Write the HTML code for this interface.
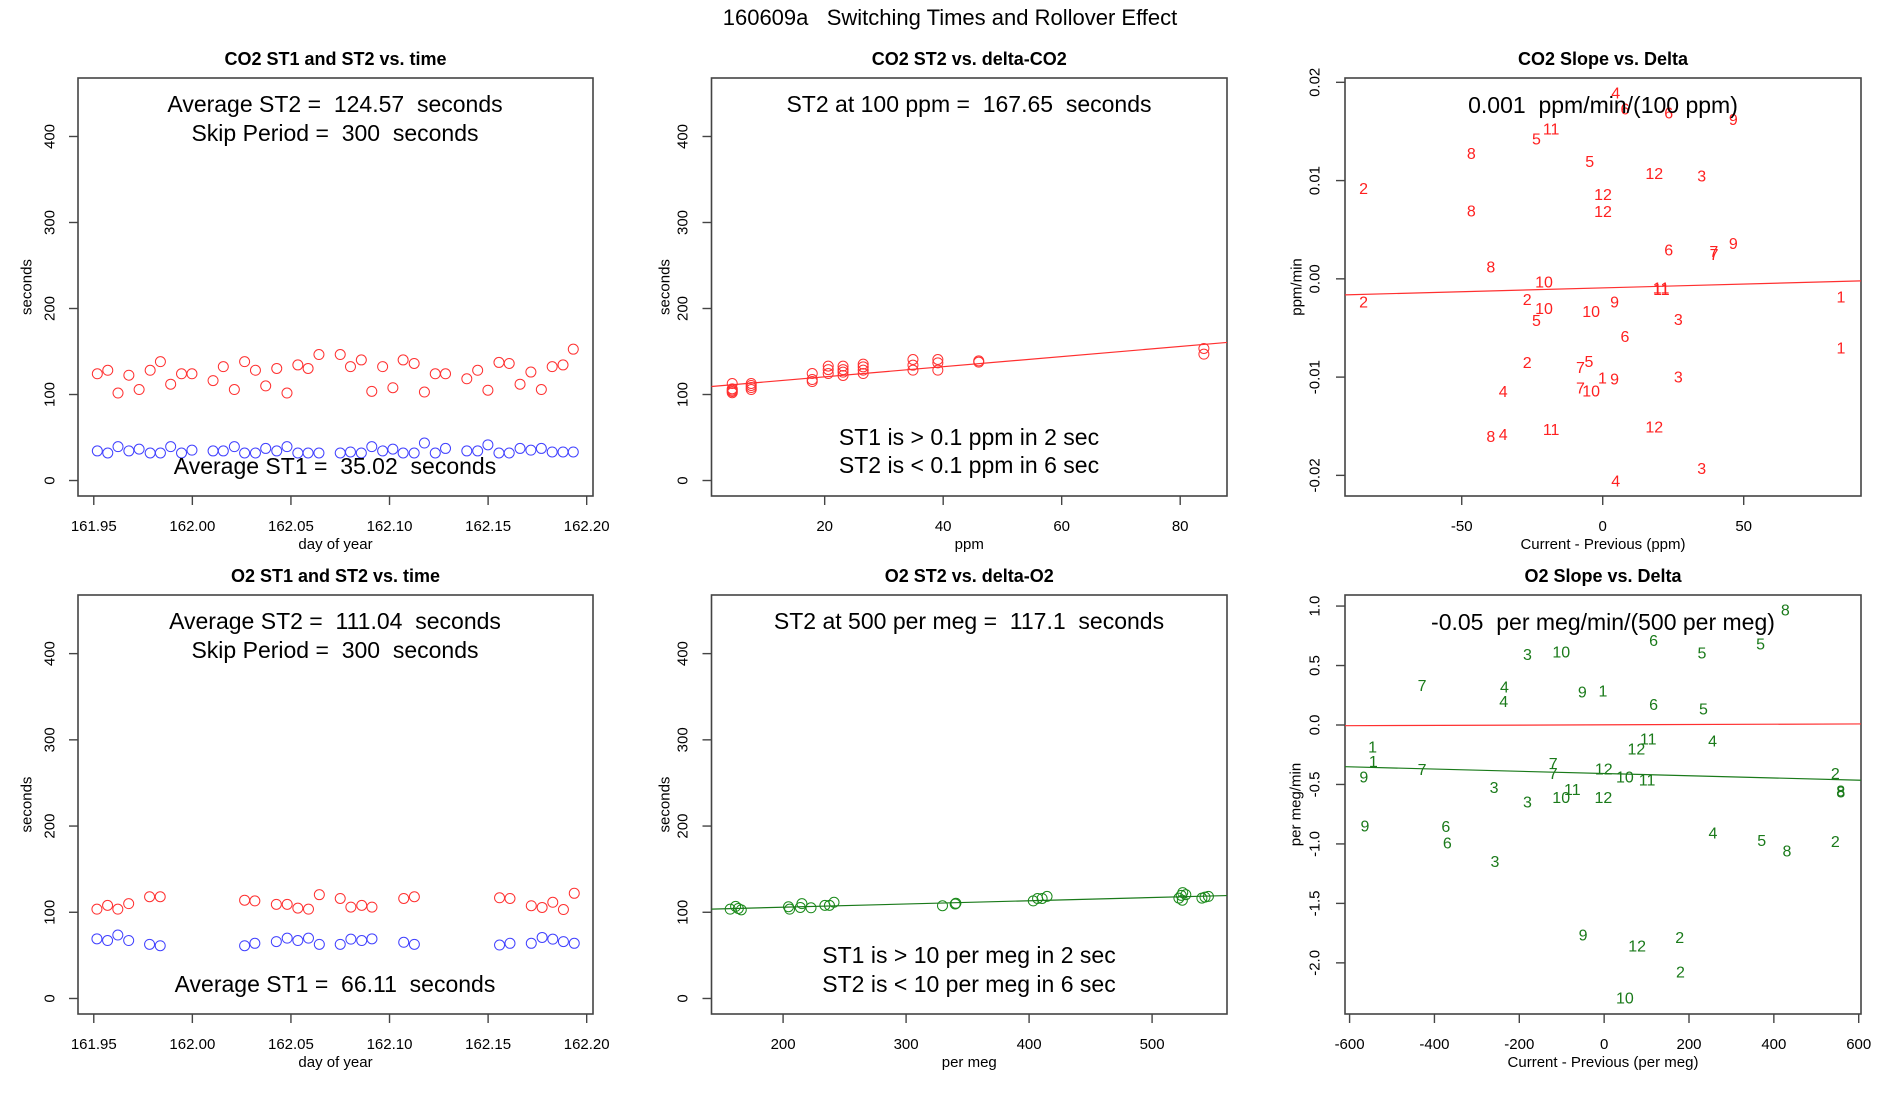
<!DOCTYPE html>
<html><head><meta charset="utf-8"><style>
html,body{margin:0;padding:0;background:#fff;}
svg{display:block;font-family:"Liberation Sans",sans-serif;}
svg text{white-space:pre;}
</style></head><body>
<svg id="fig" width="1900" height="1100" viewBox="0 0 1900 1100" xml:space="preserve">
<text x="950" y="25" font-size="22" text-anchor="middle">160609a   Switching Times and Rollover Effect</text>
</svg>
<script>
// ---------- Panel 1: CO2 ST1/ST2 vs time ----------
const co2Times = [161.9518,161.9571,161.9623,161.9678,161.9730,161.9786,161.9838,161.9890,161.9945,161.9998,162.0105,162.0157,162.0213,162.0265,162.0320,162.0372,162.0428,162.0480,162.0535,162.0587,162.0642,162.0750,162.0802,162.0857,162.0910,162.0965,162.1017,162.1069,162.1125,162.1177,162.1232,162.1284,162.1392,162.1447,162.1499,162.1555,162.1607,162.1662,162.1717,162.1770,162.1825,162.1880,162.1932];
const co2ST2 = [124.1,128.2,101.7,122.4,105.8,128.2,138.2,112.0,124.1,124.1,116.2,132.4,105.8,138.2,128.2,110.0,130.3,101.7,134.4,130.3,146.5,146.5,132.4,140.2,103.7,132.4,107.9,140.2,136.1,102.9,124.1,124.1,118.3,128.2,105.0,137.3,136.1,112.0,126.1,105.8,132.4,134.4,152.7];
const co2ST1 = [34.4,32.0,39.4,34.4,36.5,32.0,32.0,39.4,32.0,35.3,34.4,34.4,39.4,32.0,32.0,37.3,34.4,39.4,32.0,32.0,32.0,32.0,33.2,32.0,39.4,34.4,36.5,32.0,32.0,43.6,32.0,37.3,34.4,34.4,41.5,32.0,32.0,37.3,35.3,37.3,33.2,33.2,33.2];
const timeTicks = [161.95,162.00,162.05,162.10,162.15,162.20];
const timeTickLabels = ["161.95","162.00","162.05","162.10","162.15","162.20"];
const secTicks = [0,100,200,300,400];
const secTickLabels = ["0","100","200","300","400"];

// ---------- Panel 4: O2 ST1/ST2 vs time ----------
const o2Times = [161.9516,161.9570,161.9622,161.9677,161.9783,161.9837,162.0265,162.0317,162.0426,162.0481,162.0535,162.0589,162.0644,162.0750,162.0804,162.0859,162.0911,162.1072,162.1126,162.1558,162.1611,162.1719,162.1774,162.1828,162.1882,162.1937];
const o2ST2 = [103.6,108,103.6,110,118,118,114,113.2,109.2,109.2,104.8,103.6,120.4,116,106,108,106,116,118,116.8,116,107.6,105.6,111.6,103.2,122];
const o2ST1 = [69.2,67.2,73.6,67.2,62.8,61.2,61.2,64,66,70,67.2,70,62.8,62.8,68.8,67.2,69.2,65.2,62.8,62,64,64,70.8,68.8,66,64];

// ---------- Panel 2: CO2 ST2 vs delta ----------
const co2Delta = [4.4,4.4,4.4,4.4,4.4,7.6,7.6,7.6,7.6,17.9,17.9,17.9,20.6,20.6,20.6,23.1,23.1,23.1,23.1,26.5,26.5,26.5,26.5,34.9,34.9,34.9,39.1,39.1,39.1,46,46,84,84];
const co2DeltaST2 = [112.8,106.6,105,103.5,102,112.8,110.5,108.1,105.8,124.4,117.4,115.1,133,129,124.4,133,129,126,122.1,135.3,132.2,128.3,124.4,140.7,134.1,128.3,140.7,136.8,128.3,139.1,137.6,153.5,146.9];
const co2Fit = [108.8,0.5885]; // intercept, slope
const ppmTicks = [20,40,60,80];
const ppmTickLabels = ["20","40","60","80"];

// ---------- Panel 5: O2 ST2 vs delta ----------
const o2Delta = [157,161.4,163.6,166,204.4,205.3,214,215.3,222.7,234,237.7,241.4,329.6,339.9,340.5,403.4,406.9,410.6,414.6,521.8,523.7,524.6,524.9,527.4,540.5,543,545.8];
const o2DeltaST2 = [103.6,106.8,104.4,102.8,106.4,103.6,105.6,110,105.2,108,108,111.6,107.6,109.6,110.4,113.2,116,116,118.4,116.4,119.6,114,122.8,120.4,116.4,117.6,118.4];
const o2Fit = [98.35,0.0375];
const megTicks = [200,300,400,500];
const megTickLabels = ["200","300","400","500"];

// ---------- Panel 3: CO2 slope vs delta ----------
const co2SlopeLabels = ["4","6","6","9","11","5","8","5","12","3","2","12","8","12","9","6","7","7","8","10","11","11","1","2","2","9","10","10","5","3","6","1","2","5","7","1","9","3","4","7","10","11","12","8","4","3","4"];
const co2SlopeX = [4.6,7.9,23.4,46.3,-18.3,-23.5,-46.6,-4.6,18.3,35.1,-84.8,0.1,-46.6,0.1,46.3,23.4,39.4,39.5,-39.7,-20.8,20.7,20.8,84.5,-84.8,-26.8,4.2,-20.8,-4.1,-23.5,26.8,7.9,84.5,-26.8,-4.9,-7.9,-0.1,4.2,26.8,-35.3,-7.9,-4.1,-18.3,18.3,-39.7,-35.3,35.1,4.6];
const co2SlopeY = [0.01881,0.01718,0.01677,0.01609,0.01514,0.01412,0.01265,0.01184,0.01061,0.01037,0.00908,0.00847,0.0068,0.00673,0.0035,0.00282,0.0027,0.0024,0.00109,-0.00041,-0.00105,-0.00118,-0.00194,-0.00245,-0.00221,-0.00245,-0.0031,-0.00344,-0.00435,-0.00425,-0.00599,-0.00714,-0.0086,-0.0085,-0.00912,-0.0102,-0.01031,-0.0101,-0.01156,-0.01122,-0.0115,-0.01541,-0.0152,-0.01616,-0.01592,-0.01942,-0.02065];
const co2SlopeFit = [-0.00092,0.0000078];
const slopeXTicks = [-50,0,50];
const slopeXTickLabels = ["-50","0","50"];
const slopeYTicks = [-0.02,-0.01,0,0.01,0.02];
const slopeYTickLabels = ["-0.02","-0.01","0.00","0.01","0.02"];

// ---------- Panel 6: O2 slope vs delta ----------
const o2SlopeLabels = ["8","6","10","3","5","5","7","4","9","1","4","6","5","11","4","12","1","1","7","7","7","12","9","10","11","2","8","8","3","11","10","12","3","9","6","6","4","5","2","8","3","9","12","2","2","10"];
const o2SlopeX = [427,116.6,-101,-180.7,230.4,368.7,-429.2,-234.9,-51.5,-2.7,-236.7,116.6,234,103.9,255.7,75.9,-545.8,-544,-429.2,-120.2,-120.2,-0.9,-566.5,48.8,101.2,544.9,557.5,558,-259.3,-75,-101.2,-1.8,-180.7,-563.8,-373.2,-369.6,256.6,371.4,544.9,431,-257.5,-49.7,77.7,178,179.8,48.8];
const o2SlopeY = [0.958,0.703,0.607,0.584,0.598,0.671,0.325,0.311,0.27,0.276,0.189,0.166,0.128,-0.125,-0.145,-0.209,-0.195,-0.317,-0.383,-0.334,-0.415,-0.378,-0.444,-0.444,-0.471,-0.415,-0.563,-0.57,-0.534,-0.549,-0.616,-0.619,-0.656,-0.857,-0.86,-0.999,-0.915,-0.979,-0.987,-1.069,-1.156,-1.775,-1.865,-1.795,-2.085,-2.303];
const o2SlopeFit = [-0.408,-0.0000937];
const o2SlopeRedFit = [0.0015,0.0000123];
const megDXTicks = [-600,-400,-200,0,200,400,600];
const megDXTickLabels = ["-600","-400","-200","0","200","400","600"];
const o2SlopeYTicks = [-2.0,-1.5,-1.0,-0.5,0,0.5,1.0];
const o2SlopeYTickLabels = ["-2.0","-1.5","-1.0","-0.5","0.0","0.5","1.0"];

const NS = "http://www.w3.org/2000/svg";
const svg = document.getElementById('fig');
function mk(tag, attrs, parent, txt){
  const e = document.createElementNS(NS, tag);
  for (const k in attrs) e.setAttribute(k, attrs[k]);
  if (txt !== undefined) e.textContent = txt;
  (parent || svg).appendChild(e);
  return e;
}
function makePanel(name, box, xd, yd){
  const g = mk('g', {});
  
  
  const sx = v => box.x0 + (v - xd[0]) / (xd[1] - xd[0]) * (box.x1 - box.x0);
  const sy = v => box.y1 - (v - yd[0]) / (yd[1] - yd[0]) * (box.y1 - box.y0);
  return {g, sx, sy, box};
}
function frame(p, title, xlab, ylab, xt, xtl, yt, ytl, ylabX, ytickX){
  const b = p.box;
  const r = mk('rect', {x:b.x0, y:b.y0, width:b.x1-b.x0, height:b.y1-b.y0, fill:'none', stroke:'#444', 'stroke-width':1.6}, p.g);
  
  
  const t = mk('text', {x:(b.x0+b.x1)/2, y:b.y0-13, 'font-size':18, 'font-weight':'bold', 'text-anchor':'middle'}, p.g, title);
  
  
  xt.forEach((v,i)=>{
    const x = p.sx(v);
    mk('line', {x1:x, x2:x, y1:b.y1, y2:b.y1+9, stroke:'#444', 'stroke-width':1.4}, p.g);
    const tl = mk('text', {x:x, y:b.y1+35, 'font-size':15, 'text-anchor':'middle'}, p.g, xtl[i]);
    
    
  });
  yt.forEach((v,i)=>{
    const y = p.sy(v);
    mk('line', {x1:b.x0-9, x2:b.x0, y1:y, y2:y, stroke:'#444', 'stroke-width':1.4}, p.g);
    const tl = mk('text', {x:ytickX, y:y, 'font-size':15, 'text-anchor':'middle', 'dominant-baseline':'central', transform:`rotate(-90 ${ytickX} ${y})`}, p.g, ytl[i]);
    
    
  });
  const xl = mk('text', {x:(b.x0+b.x1)/2, y:b.y1+53, 'font-size':15, 'text-anchor':'middle'}, p.g, xlab);
  
  
  const cy = (b.y0+b.y1)/2;
  const yl = mk('text', {x:ylabX, y:cy, 'font-size':15, 'text-anchor':'middle', 'dominant-baseline':'central', transform:`rotate(-90 ${ylabX} ${cy})`}, p.g, ylab);
  
  
}
function note(p, x, y, txt){
  const t = mk('text', {x:x, y:y, 'font-size':23, 'text-anchor':'middle', 'dominant-baseline':'central'}, p.g, txt);
  
  
}
function points(p, xs, ys, color, nm){
  xs.forEach((v,i)=>{
    const c = mk('circle', {cx:p.sx(v), cy:p.sy(ys[i]), r:5, fill:'none', stroke:color, 'stroke-width':1}, p.g);
    
    
  });
}
function labels(p, xs, ys, labs, color){
  xs.forEach((v,i)=>{
    const t = mk('text', {x:p.sx(v), y:p.sy(ys[i]), fill:color, 'font-size':16, 'text-anchor':'middle', 'dominant-baseline':'central'}, p.g, labs[i]);
    
    
  });
}
function fitLine(p, xd, fit, color, nm){
  const l = mk('line', {x1:p.sx(xd[0]), y1:p.sy(fit[0]+fit[1]*xd[0]), x2:p.sx(xd[1]), y2:p.sy(fit[0]+fit[1]*xd[1]), stroke:color, 'stroke-width':1.2}, p.g);
  
  
}

const C1 = [78,593], C2 = [711.5,1227], C3 = [1345,1861];
const R1 = [78,496], R2 = [595,1014];
const timeDom = [161.942,162.2032], secDom = [-18,468];

// Panel 1
let p = makePanel('co2-st-vs-time', {x0:C1[0],x1:C1[1],y0:R1[0],y1:R1[1]}, timeDom, secDom);
frame(p, 'CO2 ST1 and ST2 vs. time', 'day of year', 'seconds', timeTicks, timeTickLabels, secTicks, secTickLabels, 27, 50);
note(p, 335, 104, 'Average ST2 =  124.57  seconds');
note(p, 335, 133, 'Skip Period =  300  seconds');
points(p, co2Times, co2ST2, '#ff3030', 'st2-point');
points(p, co2Times, co2ST1, '#4040ff', 'st1-point');
note(p, 335, 466, 'Average ST1 =  35.02  seconds');

// Panel 2
const d2 = [0.9,87.9];
p = makePanel('co2-st2-vs-delta', {x0:C2[0],x1:C2[1],y0:R1[0],y1:R1[1]}, d2, secDom);
frame(p, 'CO2 ST2 vs. delta-CO2', 'ppm', 'seconds', ppmTicks, ppmTickLabels, secTicks, secTickLabels, 665, 683);
note(p, 969, 104, 'ST2 at 100 ppm =  167.65  seconds');
points(p, co2Delta, co2DeltaST2, '#ff3030', 'st2-point');
fitLine(p, d2, co2Fit, '#ff3030', 'fit-line');
note(p, 969, 437, 'ST1 is > 0.1 ppm in 2 sec');
note(p, 969, 465, 'ST2 is < 0.1 ppm in 6 sec');

// Panel 3
const d3 = [-91.4,91.6];
p = makePanel('co2-slope-vs-delta', {x0:C3[0],x1:C3[1],y0:R1[0],y1:R1[1]}, d3, [-0.0221,0.02044]);
frame(p, 'CO2 Slope vs. Delta', 'Current - Previous (ppm)', 'ppm/min', slopeXTicks, slopeXTickLabels, slopeYTicks, slopeYTickLabels, 1297, 1315);
fitLine(p, d3, co2SlopeFit, '#ff3030', 'fit-line');
labels(p, co2SlopeX, co2SlopeY, co2SlopeLabels, '#ff2020');
note(p, 1603, 105, '0.001  ppm/min/(100 ppm)');

// Panel 4
p = makePanel('o2-st-vs-time', {x0:C1[0],x1:C1[1],y0:R2[0],y1:R2[1]}, timeDom, secDom);
frame(p, 'O2 ST1 and ST2 vs. time', 'day of year', 'seconds', timeTicks, timeTickLabels, secTicks, secTickLabels, 27, 50);
note(p, 335, 621, 'Average ST2 =  111.04  seconds');
note(p, 335, 650, 'Skip Period =  300  seconds');
points(p, o2Times, o2ST2, '#ff3030', 'st2-point');
points(p, o2Times, o2ST1, '#4040ff', 'st1-point');
note(p, 335, 984, 'Average ST1 =  66.11  seconds');

// Panel 5
const d5 = [141.8,560.9];
p = makePanel('o2-st2-vs-delta', {x0:C2[0],x1:C2[1],y0:R2[0],y1:R2[1]}, d5, secDom);
frame(p, 'O2 ST2 vs. delta-O2', 'per meg', 'seconds', megTicks, megTickLabels, secTicks, secTickLabels, 665, 683);
note(p, 969, 621, 'ST2 at 500 per meg =  117.1  seconds');
points(p, o2Delta, o2DeltaST2, '#1a8a1a', 'st2-point');
fitLine(p, d5, o2Fit, '#1a7a1a', 'fit-line');
note(p, 969, 955, 'ST1 is > 10 per meg in 2 sec');
note(p, 969, 984, 'ST2 is < 10 per meg in 6 sec');

// Panel 6
const d6 = [-610.8,605.4];
p = makePanel('o2-slope-vs-delta', {x0:C3[0],x1:C3[1],y0:R2[0],y1:R2[1]}, d6, [-2.43,1.093]);
frame(p, 'O2 Slope vs. Delta', 'Current - Previous (per meg)', 'per meg/min', megDXTicks, megDXTickLabels, o2SlopeYTicks, o2SlopeYTickLabels, 1296, 1315);
fitLine(p, d6, o2SlopeRedFit, '#ff3030', 'zero-fit-line');
fitLine(p, d6, o2SlopeFit, '#1a7a1a', 'fit-line');
labels(p, o2SlopeX, o2SlopeY, o2SlopeLabels, '#1a7a1a');
note(p, 1603, 622, '-0.05  per meg/min/(500 per meg)');
</script>
</body></html>
